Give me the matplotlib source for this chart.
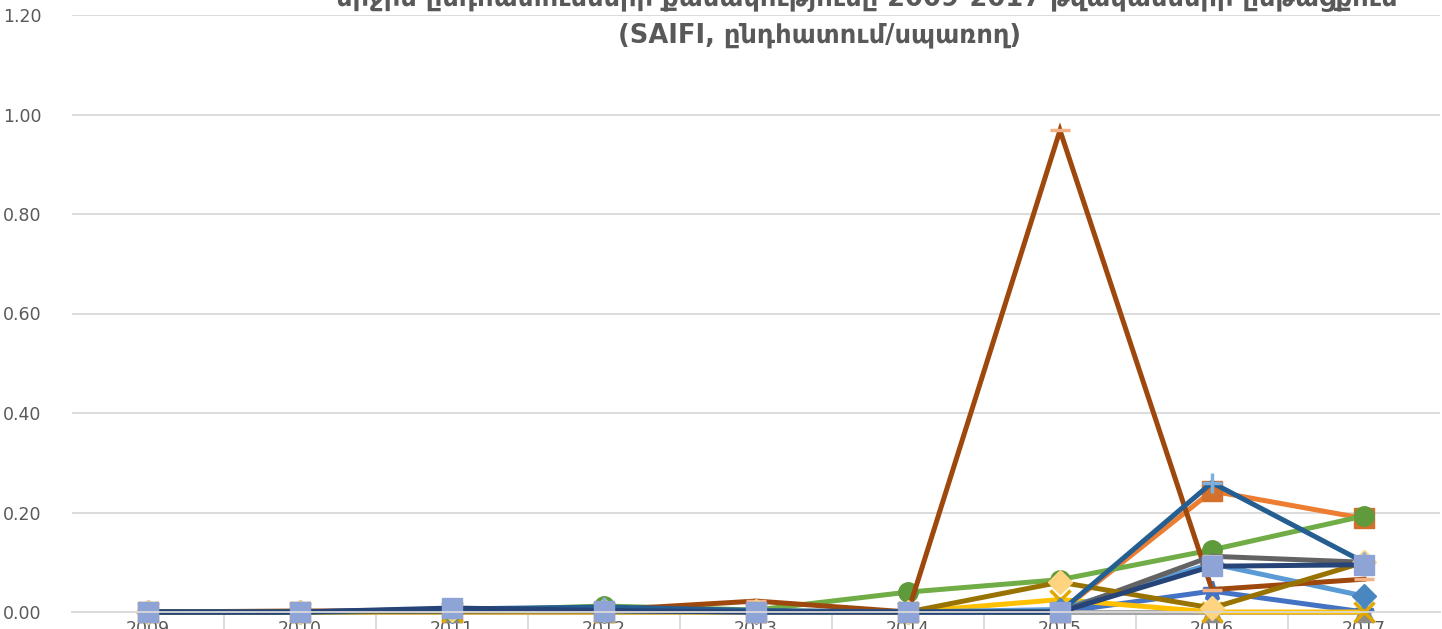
import numpy as np
import matplotlib.pyplot as plt

# SAIFI ըստ տարիների
years = ["2009", "2010", "2011", "2012", "2013", "2014", "2015", "2016", "2017"]

s_blue = [0, 0, 0, 0, 0, 0, 0, 0.042, 0.0]
s_orange = [0, 0, 0, 0, 0, 0, 0, 0.243, 0.188]
s_gray = [0, 0, 0, 0, 0, 0, 0, 0, 0]
s_gold = [0, 0, 0, 0, 0, 0, 0.025, 0, 0]
s_lightblue = [0, 0, 0.003, 0.003, 0, 0, 0.005, 0.097, 0.032]
s_green = [0, 0, 0.002, 0.012, 0.004, 0.040, 0.065, 0.125, 0.193]
s_brown = [0, 0.002, 0.002, 0.004, 0.022, 0, 0.968, 0.045, 0.066]
s_darkgray = [0, 0, 0.002, 0.002, 0, 0, 0, 0.112, 0.100]
s_olive = [0, 0, 0.004, 0.004, 0.002, 0, 0.060, 0.008, 0.100]
s_darkblue = [0, 0, 0.006, 0.010, 0.003, 0, 0, 0.260, 0.100]
s_navy = [0, 0, 0.008, 0.003, 0, 0, 0, 0.092, 0.095]

series = [
    (s_blue, "#4472C4", "#4472C4", "*"),
    (s_orange, "#ED7D31", "#D4702B", "s"),
    (s_gray, "#A5A5A5", "#8C8C8C", "^"),
    (s_gold, "#FFC000", "#E0A800", "x"),
    (s_lightblue, "#5B9BD5", "#4A86BF", "D"),
    (s_green, "#70AD47", "#5F9A3B", "o"),
    (s_brown, "#9E480E", "#F4B183", "_"),
    (s_darkgray, "#636363", "#BFBFBF", "_"),
    (s_olive, "#997300", "#FFD480", "D"),
    (s_darkblue, "#255E91", "#7FAFDD", "+"),
    (s_navy, "#264478", "#8FA4D6", "s"),
]

fig = plt.figure(figsize=(14.42, 6.29), dpi=100)
ax = fig.add_axes([72 / 1442, 17 / 629, 1368 / 1442, 597 / 629])

x = np.arange(len(years))
for vals, lc, mc, m in series:
    ms = 14
    mew = 1
    if m in ("x", "+", "*", "_"):
        mew = 2.5
    if m == "D":
        ms = 12.5
    ax.plot(x, vals, color=lc, lw=3.6, marker=m, markersize=ms,
            markerfacecolor=mc, markeredgecolor=mc, markeredgewidth=mew,
            solid_joinstyle="miter", clip_on=False)

ax.set_xlim(-0.5, len(years) - 0.5)
ax.set_ylim(0, 1.2)
ax.set_yticks(np.arange(0, 1.21, 0.2))
ax.set_yticklabels([f"{v:.2f}" for v in np.arange(0, 1.21, 0.2)])
ax.set_xticks(x)
ax.set_xticklabels(years)
ax.set_xticks(np.arange(0.5, len(years) - 0.5, 1), minor=True)

ax.grid(axis="y", color="#D9D9D9", lw=1.3)
ax.set_axisbelow(True)
for s in ["left", "right", "top"]:
    ax.spines[s].set_visible(False)
ax.spines["bottom"].set_color("#D9D9D9")
ax.spines["bottom"].set_linewidth(1.3)
ax.tick_params(axis="y", length=0, pad=22, labelsize=12.5, labelcolor="#595959")
ax.tick_params(axis="x", which="major", length=0, pad=6, labelsize=12.5, labelcolor="#595959")
ax.tick_params(axis="x", which="minor", length=14, width=1.3, color="#D9D9D9")

title_kw = dict(ha="center", va="center", fontsize=18.5, fontweight="bold",
                color="#595959", family="DejaVu Sans")
fig.text(867 / 1442, 1 + 1 / 629, "միջին ընդհատումների քանակությունը 2009-2017 թվականների ընթացքում", **title_kw)
fig.text(820 / 1442, 1 - 35 / 629, "(SAIFI, ընդհատում/սպառող)", **title_kw)

fig.savefig("out.png", dpi=100)
